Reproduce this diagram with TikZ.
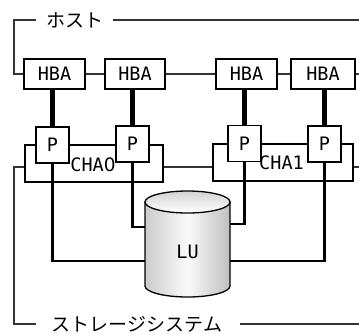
\documentclass[tikz,border=0pt]{standalone}
\usepackage{fontspec}
\newfontfamily\jpfont{Noto Sans CJK JP}
\newfontfamily\labfont{DejaVu Sans Mono}
\newfontfamily\zerofont{DejaVu Sans}
\begin{document}
\begin{tikzpicture}[x=1pt,y=-1pt,
  box/.style={draw=black, fill=white, line width=1.3pt, inner sep=0pt,
    font=\labfont\fontsize{18.5}{18.5}\selectfont},
  hba/.style={box, minimum height=30pt},
  port/.style={box, minimum width=33pt, minimum height=36pt},
  cha/.style={draw=black, line width=1.3pt, inner sep=0pt, minimum height=37pt},
  lab/.style={inner sep=0pt, font=\labfont\fontsize{18.5}{18.5}\selectfont},
  bracket/.style={draw=black!80, line width=1.3pt},
  heavy/.style={draw=black, line width=5pt},
  lulink/.style={draw=black, line width=2.2pt},
  jp/.style={inner sep=0pt, font=\jpfont\fontsize{19}{19}\selectfont}]
\useasboundingbox (0,0) rectangle (359,333);

% LU cylinder
\shade[left color=gray!40, right color=gray!50, middle color=gray!4, draw=black, line width=1.3pt]
  (145,202) -- (145,286) arc[start angle=180, end angle=0, x radius=42.5, y radius=11] -- (230,202) -- cycle;
\shade[top color=gray!35, bottom color=white, draw=black, line width=1.3pt]
  (187.5,202) ellipse [x radius=42.5, y radius=11];
\node[lab, minimum width=85pt, minimum height=60pt] (LU) at (187.5,252) {LU};

% channel adapters
\node[cha, minimum width=138pt] (cha0) at (94,163.5) {};
\node[cha, minimum width=140pt] (cha1) at (283,162.5) {};
\node[lab] (cha0lbl) at (93,164.5) {CHA{\zerofont 0}};
\node[lab] (cha1lbl) at (281.5,163) {CHA1};

% ports
\node[port] (p1) at (52.5,145) {P};
\node[port] (p2) at (132.5,144) {P};
\node[port] (p3) at (244.5,143.5) {P};
\node[port] (p4) at (324.5,144) {P};

% port to LU
\draw[lulink] (p1.south) |- ([yshift=-9pt]LU.west);
\draw[lulink] (p2.south) |- ([yshift=25pt]LU.west);
\draw[lulink] (p3.south) |- ([yshift=28pt]LU.east);
\draw[lulink] (p4.south) |- ([yshift=-9pt]LU.east);

% HBAs
\node[hba, minimum width=61pt] (hba1) at (54.5,74) {HBA};
\node[hba, minimum width=60pt] (hba2) at (135,74) {HBA};
\node[hba, minimum width=61pt] (hba3) at (246.5,74) {HBA};
\node[hba, minimum width=64pt] (hba4) at (323,74) {HBA};
\coordinate (hbaEnd) at (359,74);
\draw[bracket] (hba1.east) -- (hba2.west);
\draw[bracket] (hba2.east) -- (hba3.west);
\draw[bracket] (hba3.east) -- (hba4.west);
\draw[bracket] (hba4.east) -- (hbaEnd);

% HBA to port
\draw[heavy] (p1.north) -- (p1.north |- hba1.south);
\draw[heavy] (p2.north) -- (p2.north |- hba2.south);
\draw[heavy] (p3.north) -- (p3.north |- hba3.south);
\draw[heavy] (p4.north) -- (p4.north |- hba4.south);

% host bracket
\node[jp] (host) at (75,20) {ホスト};
\coordinate (hostL) at (36,20);
\coordinate (hostC) at (14,20);
\coordinate (hostR) at (113,20);
\coordinate (hostEnd) at (359,20);
\draw[bracket] (hostL) -- (hostC) |- (hba1.west);
\draw[bracket] (hostR) -- (hostEnd);

% storage bracket
\coordinate (stC) at (14,167);
\coordinate (stEnd) at (359,167);
\coordinate (stL) at (36,324);
\coordinate (stR) at (240,324);
\coordinate (stEnd2) at (359,324);
\node[jp] (storage) at (137,324) {ストレージシステム};
\draw[bracket] (cha0.west |- stC) -- (stC) |- (stL);
\draw[bracket] (cha0.east |- stC) -- (cha1.west |- stC);
\draw[bracket] (cha1.east |- stC) -- (stEnd);
\draw[bracket] (stR) -- (stEnd2);
\end{tikzpicture}
\end{document}
